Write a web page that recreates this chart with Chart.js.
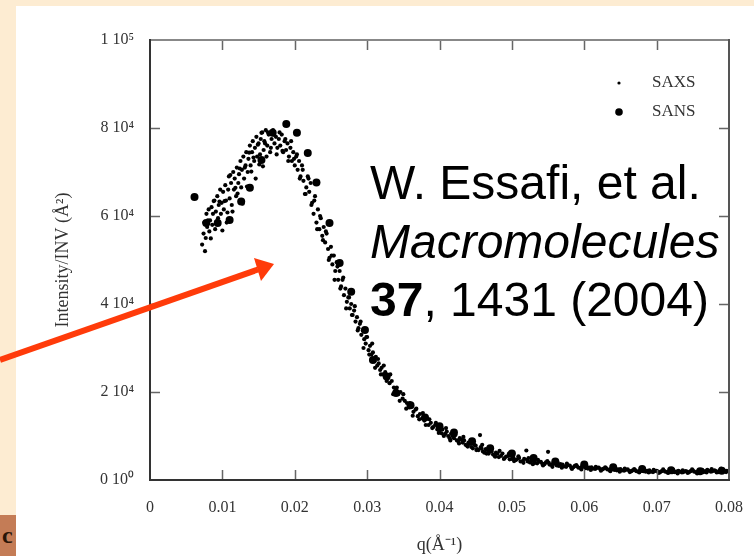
<!DOCTYPE html>
<html>
<head>
<meta charset="utf-8">
<script src="https://cdn.jsdelivr.net/npm/chart.js@4/dist/chart.umd.min.js"></script>
<style>
  html, body { margin:0; padding:0; }
  body { width:754px; height:556px; background:#FDECD2; position:relative; overflow:hidden; }
  #panel { position:absolute; left:16px; top:6px; width:738px; height:550px; background:#ffffff; }
  #cbox { position:absolute; left:0; top:515px; width:16px; height:41px; background:#C47C56; overflow:hidden; }
  #cbox span { position:absolute; left:2px; top:8px; font:bold 24px "Liberation Serif", serif; color:#2a1508; line-height:24px; }
  #chart { position:absolute; left:0; top:0; }
  #note { position:absolute; left:370px; top:154px; font-family:"Liberation Sans", Arial, sans-serif; font-size:48px; line-height:58.5px; color:#000; white-space:nowrap; }
  #arrow { position:absolute; left:0; top:0; }
</style>
</head>
<body>
<div id="panel"></div>
<div id="cbox"><span>c</span></div>
<canvas id="chart" width="754" height="556"></canvas>
<div id="note">
  <div>W. Essafi, et al.</div>
  <div><i>Macromolecules</i></div>
  <div><b>37</b>, 1431 (2004)</div>
</div>
<svg id="arrow" width="754" height="556">
  <line x1="0" y1="360" x2="258" y2="269.5" stroke="#FF3B0A" stroke-width="6"/>
  <polygon points="274,264 254,258 261,281" fill="#FF3B0A"/>
</svg>
<script>
// ---- data ----
const xTickValues = [0, 0.01, 0.02, 0.03, 0.04, 0.05, 0.06, 0.07, 0.08];
const xTickLabels = ['0', '0.01', '0.02', '0.03', '0.04', '0.05', '0.06', '0.07', '0.08'];
const yTickValues = [0, 20000, 40000, 60000, 80000, 100000];
const yTickLabels = ['0 10\u2070', '2 10\u2074', '4 10\u2074', '6 10\u2074', '8 10\u2074', '1 10\u2075'];
const seriesNames = ['SAXS', 'SANS'];
const xTitle = 'q(\u00C5\u207B\u00B9)';
const yTitle = 'Intensity/INV (\u00C5\u00B2)';

// SAXS: [q, intensity]
const saxs = [
[0.0072,53500],[0.0074,56000],[0.0075,58500],[0.0077,55000],[0.0078,60500],[0.0079,57500],[0.0081,61500],[0.0082,56500],
[0.0083,59000],[0.0085,62000],[0.0086,58000],[0.0087,60500],[0.0089,63500],[0.0090,57000],[0.0091,61000],[0.0093,64500],
[0.0094,59500],[0.0095,62500],[0.0097,66000],[0.0098,60500],[0.0099,63000],[0.0101,65500],[0.0102,61500],[0.0104,67000],
[0.0105,63500],[0.0106,58500],[0.0108,66000],[0.0109,69000],[0.0110,64000],[0.0112,67500],[0.0113,62500],[0.0115,70000],
[0.0116,66000],[0.0117,68500],[0.0119,64500],[0.0120,71000],[0.0122,67500],[0.0123,69500],[0.0125,72500],[0.0126,66500],
[0.0127,70500],[0.0129,73500],[0.0130,68500],[0.0132,71500],[0.0133,74500],[0.0135,70000],[0.0136,73000],[0.0138,76000],
[0.0139,71500],[0.0141,74500],[0.0142,77000],[0.0144,72500],[0.0145,75500],[0.0147,78000],[0.0148,73500],[0.0150,76500],
[0.0152,74000],[0.0153,77500],[0.0155,79000],[0.0157,75000],[0.0158,77000],[0.0160,79500],[0.0162,76000],[0.0164,78500],
[0.0166,74500],[0.0168,77500],[0.0170,79500],[0.0172,76500],[0.0174,78000],[0.0176,75500],[0.0178,77500],[0.0180,76000],
[0.0182,78500],[0.0184,74500],[0.0186,77000],[0.0188,75000],[0.0190,76500],[0.0192,73500],[0.0194,75500],[0.0196,72500],
[0.0198,74500],[0.0200,71500],[0.0202,73500],[0.0204,70500],[0.0206,72500],[0.0208,69000],[0.0210,71500],[0.0212,68000],
[0.0214,65000],[0.0216,66500],[0.0218,69000],[0.0220,65500],[0.0222,67500],[0.0224,63000],[0.0226,60500],[0.0228,64500],
[0.0230,58500],[0.0232,61500],[0.0234,57000],[0.0236,59500],[0.0238,55500],[0.0240,57500],[0.0242,54000],[0.0244,56000],
[0.0246,52500],[0.0248,50500],[0.0250,53000],[0.0252,49000],[0.0254,51000],[0.0256,47500],[0.0258,49500],[0.0260,45500],
[0.0262,47500],[0.0264,44000],[0.0266,45500],[0.0268,42000],[0.0270,43500],[0.0272,40500],[0.0274,41500],[0.0276,39000],
[0.0278,40000],[0.0280,37500],[0.0282,38500],[0.0284,36000],[0.0286,37000],[0.0288,34500],[0.0290,35500],[0.0292,33000],
[0.0294,34000],[0.0296,32000],[0.0298,31000],[0.0300,32500],[0.0302,29500],[0.0304,30500],[0.0306,28500],[0.0308,29000],
[0.0310,27000],[0.0312,28000],[0.0314,26000],[0.0316,26500],[0.0318,25000],[0.0320,25500],[0.0322,24000],[0.0325,24500],
[0.0328,23000],[0.0331,22000],[0.0334,22500],[0.0337,21000],[0.0340,20500],[0.0343,19500],[0.0346,20000],[0.0349,18500],
[0.0352,18000],[0.0355,17500],[0.0358,16500],[0.0361,17000],[0.0364,15500],[0.0367,16000],[0.0370,14500],[0.0373,15000],
[0.0376,14000],[0.0379,13500],[0.0382,14000],[0.0385,12500],[0.0388,13000],[0.0391,12000],[0.0394,12500],[0.0397,11500],
[0.0400,11000],[0.0402,12000],[0.0404,11500],[0.0406,10000],[0.0408,10500],[0.0410,11000],[0.0412,10000],[0.0414,9500],
[0.0416,10500],[0.0418,10000],[0.0420,9500],[0.0422,10200],[0.0424,9000],[0.0426,8800],[0.0428,9500],[0.0430,9200],
[0.0432,8500],[0.0434,9000],[0.0436,8000],[0.0438,7800],[0.0440,8500],[0.0442,8200],[0.0444,7500],[0.0446,7200],
[0.0448,8000],[0.0450,7800],[0.0452,7000],[0.0454,6800],[0.0456,10200],[0.0457,7500],[0.0458,7200],[0.0460,6500],
[0.0462,6200],[0.0464,7000],[0.0466,6800],[0.0468,6000],[0.0470,6600],[0.0472,6500],[0.0474,5800],[0.0476,5500],
[0.0478,6200],[0.0480,6000],[0.0482,5200],[0.0485,5500],[0.0487,6000],[0.0490,5000],[0.0492,5300],[0.0495,5500],
[0.0497,4700],[0.0500,4800],[0.0502,5100],[0.0505,4500],[0.0507,4700],[0.0510,5000],[0.0512,4200],[0.0515,4300],
[0.0517,4800],[0.0520,6700],[0.0521,4600],[0.0522,4200],[0.0525,4000],[0.0527,4500],[0.0530,4300],[0.0532,3900],
[0.0535,3800],[0.0537,4200],[0.0540,4100],[0.0542,3700],[0.0545,3600],[0.0547,4000],[0.0550,6400],[0.0551,3900],
[0.0552,3500],[0.0555,3400],[0.0557,3800],[0.0560,3700],[0.0562,3300],[0.0565,3200],[0.0567,3600],[0.0570,3500],
[0.0572,3100],[0.0575,3000],[0.0577,3400],[0.0580,3300],[0.0582,2800],[0.0585,2900],[0.0587,3200],[0.0590,3100],
[0.0592,2800],[0.0595,2700],[0.0597,3100],[0.0600,3000],[0.0602,2700],[0.0605,2600],[0.0607,2800],[0.0610,2900],
[0.0612,2600],[0.0615,2500],[0.0617,2700],[0.0620,2800],[0.0622,2500],[0.0625,2400],[0.0627,2600],[0.0630,2700],
[0.0632,2400],[0.0635,2300],[0.0637,2500],[0.0640,2600],[0.0642,2300],[0.0645,2200],[0.0647,2400],[0.0650,2500],
[0.0652,2200],[0.0655,2100],[0.0657,2300],[0.0660,2400],[0.0662,2100],[0.0665,2000],[0.0667,2200],[0.0670,2300],
[0.0672,2000],[0.0675,1900],[0.0677,2100],[0.0680,2200],[0.0682,2000],[0.0685,1900],[0.0687,2100],[0.0690,2200],
[0.0692,1900],[0.0695,1800],[0.0697,2000],[0.0700,2100],[0.0702,1900],[0.0705,1800],[0.0707,2000],[0.0710,2100],
[0.0712,1900],[0.0715,1700],[0.0717,1900],[0.0720,2000],[0.0722,1800],[0.0725,1800],[0.0727,1900],[0.0730,2100],
[0.0732,1900],[0.0735,1700],[0.0737,1800],[0.0740,2000],[0.0742,1900],[0.0745,1800],[0.0747,2000],[0.0750,2200],
[0.0752,1900],[0.0755,1700],[0.0757,1900],[0.0760,2000],[0.0762,2100],[0.0765,1800],[0.0767,2000],[0.0770,2300],
[0.0772,2100],[0.0775,1900],[0.0777,2000],[0.0780,2200],[0.0782,2000],[0.0785,1800],[0.0787,2100],[0.0790,2400],
[0.0792,2200],[0.0795,2000],[0.0797,2100],
// second, scattered layer of the cloud
[0.0076,52000],[0.0080,59000],[0.0084,54900],[0.0088,63400],[0.0092,58800],[0.0096,63300],[0.0100,56700],[0.0103,63400],
[0.0107,60800],[0.0111,69300],[0.0114,61000],[0.0118,66400],[0.0121,65100],[0.0124,70800],[0.0128,62800],[0.0131,71000],
[0.0134,66700],[0.0137,74400],[0.0140,70100],[0.0143,73300],[0.0146,68500],[0.0149,76200],[0.0151,71700],[0.0154,78900],
[0.0156,71300],[0.0159,76500],[0.0161,73500],[0.0163,79000],[0.0167,75500],[0.0171,78500],[0.0175,74000],[0.0179,79000],
[0.0183,74800],[0.0187,77500],[0.0191,72500],[0.0195,77000],[0.0199,73000],[0.0203,74000],[0.0207,68500],[0.0211,70500],
[0.0215,65000],[0.0219,68500],[0.0223,62500],[0.0227,63500],[0.0231,57000],[0.0235,60000],[0.0239,54500],[0.0243,56500],
[0.0247,50000],[0.0251,51000],[0.0255,45500],[0.0259,48500],[0.0263,43500],[0.0267,46000],[0.0271,39000],[0.0275,41500],
[0.0279,37500],[0.0283,39500],[0.0287,34000],[0.0291,36000],[0.0295,30000],[0.0299,32500],[0.0303,28500],[0.0307,31000],
[0.0311,25500],[0.0315,27500],[0.0319,24000],[0.0323,26000],[0.0327,22500],[0.0332,24000],[0.0336,19500],[0.0341,21000],
[0.0345,18000],[0.0350,19500],[0.0354,16200],[0.0359,17500],[0.0363,14600],[0.0368,16200],[0.0372,13800],[0.0377,15200],
[0.0381,12500],[0.0386,13800],[0.0390,11800],[0.0395,13000],[0.0399,10700],
[0.0403,10600],[0.0409,11800],[0.0415,9000],[0.0421,10800],[0.0427,8300],[0.0433,9800],[0.0439,7600],[0.0445,9000],
[0.0451,6800],[0.0459,8000],[0.0465,6000],[0.0471,7400],[0.0477,5300],[0.0483,6600],[0.0489,4800],[0.0496,6000],
[0.0503,4300],[0.0509,5400],[0.0516,3900],[0.0523,5000],[0.0529,3600],[0.0536,4600],[0.0543,3300],[0.0549,4300],
[0.0556,3000],[0.0563,4000],[0.0569,2800],[0.0576,3700],[0.0583,2500],[0.0589,3400],[0.0596,2400],[0.0603,3200],
[0.0609,2300],[0.0616,3000],[0.0623,2100],[0.0629,2900],[0.0636,2000],[0.0643,2700],[0.0649,1900],[0.0656,2600],
[0.0663,1800],[0.0669,2500],[0.0676,1700],[0.0683,2400],[0.0689,1700],[0.0696,2300],[0.0703,1600],[0.0709,2400],
[0.0716,1600],[0.0723,2300],[0.0729,1500],[0.0736,2200],[0.0743,1600],[0.0749,2400],[0.0756,1500],[0.0763,2300],
[0.0769,1700],[0.0776,2500],[0.0783,1700],[0.0789,2600],[0.0796,1800]
];

// SANS: [q, intensity]
const sans = [
[0.00615,64300],[0.00777,58400],[0.00935,58400],[0.0110,59100],[0.0126,63300],[0.0138,66400],[0.0154,72700],
[0.01695,78900],[0.01883,80900],[0.0203,78900],[0.0218,74300],[0.0230,67600],[0.0248,58400],[0.0262,49300],
[0.0278,42800],[0.0297,34100],[0.0308,27300],[0.0327,23500],[0.0340,19800],[0.0360,17000],[0.0380,14200],
[0.0400,12200],[0.0420,10800],[0.0445,8800],[0.0470,7200],[0.0500,6000],[0.0530,5000],[0.0560,4200],
[0.0600,3500],[0.0640,2900],[0.0680,2500],[0.0720,2200],[0.0760,2000],[0.0790,2100]
];

// ---- chart ----
const SERIF = '"Liberation Serif", "Times New Roman", serif';
Chart.defaults.font.family = SERIF;
Chart.defaults.color = '#333';

const framePlugin = {
  id: 'frame',
  afterDatasetsDraw(chart) {
    const { ctx, chartArea: { left, right, top, bottom }, scales: { x, y } } = chart;
    ctx.save();
    ctx.strokeStyle = '#666';
    ctx.lineWidth = 1.5;
    const tl = 10;
    ctx.beginPath();
    xTickValues.forEach(v => {
      if (v === x.min || v === x.max) return;
      const px = Math.round(x.getPixelForValue(v)) + 0.5;
      ctx.moveTo(px, bottom); ctx.lineTo(px, bottom - tl);
      ctx.moveTo(px, top); ctx.lineTo(px, top + tl);
    });
    yTickValues.forEach(v => {
      if (v === y.min || v === y.max) return;
      const py = Math.round(y.getPixelForValue(v)) + 0.5;
      ctx.moveTo(left, py); ctx.lineTo(left + tl, py);
      ctx.moveTo(right, py); ctx.lineTo(right - tl, py);
    });
    ctx.stroke();
    ctx.lineWidth = 2;
    ctx.strokeStyle = '#888';
    ctx.beginPath(); ctx.moveTo(left, top); ctx.lineTo(right, top); ctx.stroke();
    ctx.strokeStyle = '#555';
    ctx.beginPath(); ctx.moveTo(right, top - 1); ctx.lineTo(right, bottom); ctx.stroke();
    ctx.strokeStyle = '#333';
    ctx.beginPath(); ctx.moveTo(left, top - 1); ctx.lineTo(left, bottom); ctx.lineTo(right + 1, bottom); ctx.stroke();

    // legend
    const lx = left + 469, ty = top + 43, gap = 29;
    chart.data.datasets.forEach((ds, i) => {
      const yy = ty + i * gap;
      ctx.fillStyle = '#000';
      ctx.beginPath(); ctx.arc(lx, yy, i === 0 ? 1.6 : 3.8, 0, Math.PI * 2); ctx.fill();
      ctx.fillStyle = '#333';
      ctx.font = '17px ' + SERIF;
      ctx.textBaseline = 'middle';
      ctx.textAlign = 'left';
      ctx.fillText(ds.label, lx + 33, yy);
    });
    ctx.restore();
  }
};

new Chart(document.getElementById('chart'), {
  type: 'scatter',
  data: {
    datasets: [
      { label: seriesNames[0], data: saxs.map(p => ({ x: p[0], y: p[1] })), pointRadius: 2.1, pointBackgroundColor: '#000', pointBorderWidth: 0, pointStyle: 'circle' },
      { label: seriesNames[1], data: sans.map(p => ({ x: p[0], y: p[1] })), pointRadius: 4, pointBackgroundColor: '#000', pointBorderWidth: 0, pointStyle: 'circle' }
    ]
  },
  options: {
    responsive: false,
    devicePixelRatio: 1,
    animation: false,
    layout: { padding: { left: 52, right: 25, top: 40, bottom: 0 } },
    plugins: { legend: { display: false }, tooltip: { enabled: false } },
    scales: {
      x: {
        type: 'linear', min: 0, max: 0.08,
        afterBuildTicks: s => { s.ticks = xTickValues.map(v => ({ value: v })); },
        afterFit: s => { s.height = 76; s.paddingLeft = 0; s.paddingRight = 0; },
        grid: { display: false, drawTicks: false },
        border: { display: false },
        ticks: { padding: 18, font: { size: 16 }, color: '#333', maxRotation: 0, callback: (v, i) => xTickLabels[i] },
        title: { display: true, text: xTitle, font: { size: 18 }, color: '#333', padding: 0 }
      },
      y: {
        type: 'linear', min: 0, max: 100000,
        afterBuildTicks: s => { s.ticks = yTickValues.map(v => ({ value: v })); },
        afterFit: s => { s.width = 98; s.paddingTop = 0; s.paddingBottom = 0; },
        grid: { display: false, drawTicks: false },
        border: { display: false },
        ticks: { padding: 16, font: { size: 16 }, color: '#333', callback: (v, i) => yTickLabels[i] },
        title: { display: true, text: yTitle, font: { size: 18 }, color: '#333', padding: 0 }
      }
    }
  },
  plugins: [framePlugin]
});
</script>
</body>
</html>
